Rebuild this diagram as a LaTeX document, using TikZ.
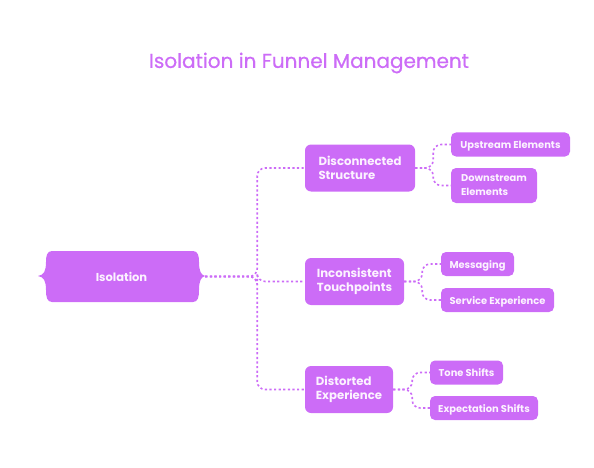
\documentclass[tikz,border=0pt]{standalone}
\usepackage{fontspec}
\setmainfont{Poppins}
\newfontfamily\titlefont[FakeBold=0.6]{Poppins}
\usepackage{tikz}
\usetikzlibrary{positioning}
\definecolor{funnel}{RGB}{204, 108, 247}
\definecolor{boxtext}{RGB}{252, 242, 255}

\begin{document}
\begin{tikzpicture}[x=1pt, y=-1pt,
  title/.style  = {text=funnel, font=\titlefont\fontsize{20}{23}\selectfont},
  topic/.style  = {rectangle, rounded corners=6pt, fill=funnel, text=boxtext,
                   font=\fontsize{11.7}{14.5}\selectfont\bfseries, align=left,
                   inner xsep=10pt, minimum height=47pt},
  leaf/.style   = {rectangle, rounded corners=5pt, fill=funnel, text=boxtext,
                   font=\fontsize{9.9}{14}\selectfont\bfseries, align=left,
                   inner xsep=6pt, minimum height=24pt},
  oneline/.style = {leaf, text height=8.6pt, text depth=0pt},
  link/.style   = {draw=funnel, line width=1.6pt, dash pattern=on 2.2pt off 2.4pt,
                   rounded corners=8pt},
]
  \useasboundingbox (0,0) rectangle (594,468);

  % Title
  \node[title] (head) at (309,63) {Isolation in Funnel Management};

  % Root shape
  \fill[funnel] (52,251) -- (193,251)
    .. controls (198,251) and (199,256) .. (199,262)
    .. controls (199,271) and (201,275) .. (205,276)
    .. controls (201,277) and (199,281) .. (199,290)
    .. controls (199,297) and (198,302) .. (193,302) -- (52,302)
    .. controls (47,302) and (46,297) .. (46,290)
    .. controls (46,281) and (44,277) .. (38,276)
    .. controls (44,275) and (46,271) .. (46,262)
    .. controls (46,256) and (47,251) .. (52,251) -- cycle;
  \node[text=boxtext, font=\fontsize{11.5}{13}\selectfont\bfseries,
        minimum width=167pt] (root) at (121.5,276.5) {Isolation};

  % Topics
  \node[topic, minimum width=110pt] (dis) at (360,168) {Disconnected\\Structure};
  \node[topic, minimum width=99pt]  (inc) at (354.5,281.5) {Inconsistent\\Touchpoints};
  \node[topic, minimum width=88pt]  (dst) at (349,389.5) {Distorted\\Experience};

  % Leaves
  \node[oneline, minimum width=119pt] (up)   at (510.5,144.5) {Upstream Elements};
  \node[leaf, minimum width=86pt, minimum height=35pt] (down) at (494,185.5) {Downstream\\Elements};
  \node[oneline, minimum width=73pt]  (msg)  at (477.5,264) {Messaging};
  \node[oneline, minimum width=113pt] (svc)  at (497.5,300) {Service Experience};
  \node[oneline, minimum width=73pt]  (tone) at (466.5,372.5) {Tone Shifts};
  \node[oneline, minimum width=108pt] (exp)  at (484,408) {Expectation Shifts};

  % Root to topics
  \draw[link] (root.east) -- ++(52,0) |- (dis.west);
  \draw[link] (root.east) -- ++(52,0) |- (inc.west);
  \draw[link] (root.east) -- ++(52,0) |- (dst.west);

  % Topics to leaves
  \draw[link] (dis.east) -- ++(18,0) |- (up.west);
  \draw[link] (dis.east) -- ++(18,0) |- (down.west);
  \draw[link] (inc.east) -- ++(18,0) |- (msg.west);
  \draw[link] (inc.east) -- ++(18,0) |- (svc.west);
  \draw[link] (dst.east) -- ++(19,0) |- (tone.west);
  \draw[link] (dst.east) -- ++(19,0) |- (exp.west);
\end{tikzpicture}
\end{document}
